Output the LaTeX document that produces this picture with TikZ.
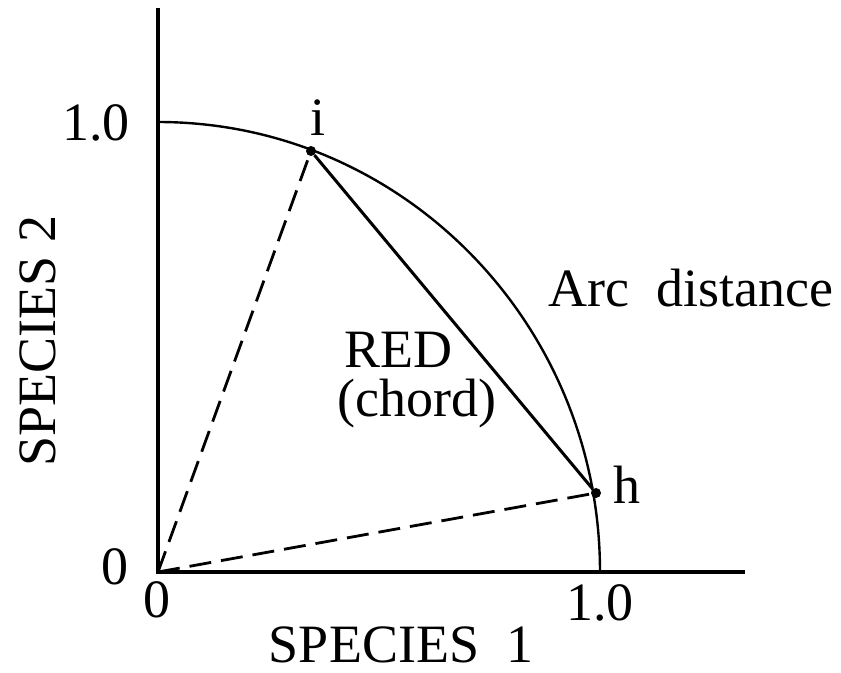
\documentclass[tikz,border=0pt]{standalone}
\usepackage{fontspec}
\setmainfont{Liberation Serif}
\begin{document}
\begin{tikzpicture}[x=0.5pt,y=-0.5pt,
  lbl/.style={font=\fontsize{27}{32}\selectfont, inner sep=0pt},
  axis/.style={line width=2pt},
  dot/.style={circle, fill=black, inner sep=0pt, minimum size=5pt},
  radius line/.style={line width=1.4pt, dash pattern=on 11pt off 5pt}]
\useasboundingbox (0,0) rectangle (841,673);
\coordinate (O) at (158,572);
\coordinate (ytop) at (158,8);
\coordinate (xend) at (745,572);
\draw[axis] (ytop) -- (O) -- (xend);
% arc
\draw[line width=1.2pt] (158,122) arc[start angle=90, end angle=0, x radius=442, y radius=-450];
\node[dot] (i) at (311,151) {};
\node[dot] (h) at (596,493) {};
\draw[line width=1.5pt] (i) -- (h);
\draw[radius line] (O) -- (i.center);
\draw[radius line] (O) -- (h.center);
% labels
\node[lbl, anchor=east] (y1) at (130,123) {1.0};
\node[lbl] (y0) at (115,567) {0};
\node[lbl] (x0) at (157,600) {0};
\node[lbl] (x1) at (600,603) {1.0};
\node[lbl] (li) at (318,118) {i};
\node[lbl, anchor=base] (lh) at (627,504) {h};
\node[lbl, anchor=base] (arc) at (691,307) {Arc\ \ distance};
\node[lbl, anchor=base] (red) at (398,368) {RED};
\node[lbl, anchor=base] (chord) at (417,417) {(chord)};
\node[lbl, anchor=base, text depth=0pt] (s1) at (401,662) {SPECIES\ \ 1};
\node[lbl, rotate=90] (s2) at (38,341) {SPECIES 2};
\end{tikzpicture}
\end{document}
